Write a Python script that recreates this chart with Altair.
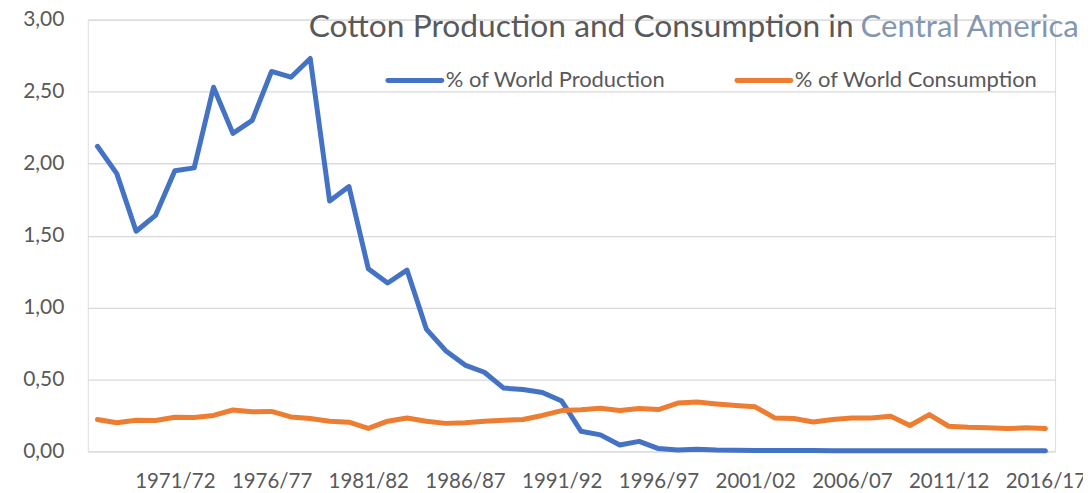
import altair as alt
import pandas as pd

seasons = [
    "1967/68", "1968/69", "1969/70", "1970/71", "1971/72", "1972/73", "1973/74", "1974/75",
    "1975/76", "1976/77", "1977/78", "1978/79", "1979/80", "1980/81", "1981/82", "1982/83",
    "1983/84", "1984/85", "1985/86", "1986/87", "1987/88", "1988/89", "1989/90", "1990/91",
    "1991/92", "1992/93", "1993/94", "1994/95", "1995/96", "1996/97", "1997/98", "1998/99",
    "1999/00", "2000/01", "2001/02", "2002/03", "2003/04", "2004/05", "2005/06", "2006/07",
    "2007/08", "2008/09", "2009/10", "2010/11", "2011/12", "2012/13", "2013/14", "2014/15",
    "2015/16", "2016/17",
]

production = [
    2.12, 1.93, 1.53, 1.64, 1.95, 1.97, 2.53, 2.21, 2.30, 2.64,
    2.60, 2.73, 1.74, 1.84, 1.27, 1.17, 1.26, 0.85, 0.70, 0.60,
    0.55, 0.44, 0.43, 0.41, 0.35, 0.14, 0.115, 0.045, 0.07, 0.02,
    0.01, 0.015, 0.01, 0.008, 0.007, 0.006, 0.006, 0.006, 0.005, 0.005,
    0.005, 0.005, 0.005, 0.005, 0.005, 0.005, 0.005, 0.005, 0.005, 0.004,
]

consumption = [
    0.222, 0.199, 0.217, 0.215, 0.238, 0.236, 0.250, 0.288, 0.275, 0.278,
    0.240, 0.229, 0.210, 0.203, 0.160, 0.210, 0.232, 0.210, 0.195, 0.199,
    0.210, 0.217, 0.222, 0.250, 0.284, 0.290, 0.300, 0.284, 0.298, 0.291,
    0.336, 0.343, 0.330, 0.319, 0.310, 0.233, 0.229, 0.205, 0.222, 0.233,
    0.233, 0.245, 0.180, 0.256, 0.175, 0.168, 0.164, 0.159, 0.164, 0.159,
]

tick_labels = ["1971/72", "1976/77", "1981/82", "1986/87", "1991/92",
               "1996/97", "2001/02", "2006/07", "2011/12", "2016/17"]
y_ticks = [0, 0.5, 1.0, 1.5, 2.0, 2.5, 3.0]

series_names = ["% of World Production", "% of World Consumption"]
series_colors = ["#4472C4", "#ED7D31"]

title_main = "Cotton Production and Consumption in"
title_region = "Central America"

FONT = "Lato"
GREY = "#595959"

df = pd.DataFrame({
    "season": seasons * 2,
    "value": production + consumption,
    "series": [series_names[0]] * len(seasons) + [series_names[1]] * len(seasons),
})

x_enc = alt.X(
    "season:N", sort=seasons,
    scale=alt.Scale(type="point", padding=0.5),
    axis=alt.Axis(
        values=tick_labels, title=None, ticks=False, tickSize=0, domain=False,
        grid=False, labelFont=FONT, labelFontSize=20.5, labelColor=GREY,
        labelAngle=0, labelBaseline="alphabetic", labelPadding=36,
    ),
)
y_enc = alt.Y(
    "value:Q",
    scale=alt.Scale(domain=[0, 3], nice=False),
    axis=alt.Axis(
        values=y_ticks, title=None, ticks=False, tickSize=0, domain=False,
        grid=True, gridColor="#d9d9d9", gridWidth=1.3,
        labelFont=FONT, labelFontSize=21, labelColor=GREY, labelPadding=24,
        labelExpr="replace(format(datum.value, '.2f'), '.', ',')",
    ),
)
color_enc = alt.Color("series:N", scale=alt.Scale(domain=series_names, range=series_colors), legend=None)

base = alt.Chart(df)
line_prod = base.transform_filter(alt.datum.series == series_names[0]).mark_line(
    strokeWidth=5, strokeCap="round", strokeJoin="round"
).encode(x=x_enc, y=y_enc, color=color_enc)
line_cons = base.transform_filter(alt.datum.series == series_names[1]).mark_line(
    strokeWidth=5, strokeCap="round", strokeJoin="round"
).encode(x=x_enc, y=y_enc, color=color_enc)

one = alt.Chart(pd.DataFrame({"a": [0]}))

title1 = one.mark_text(font=FONT, fontSize=31.8, fontWeight=400, color=GREY, align="right",
                       baseline="alphabetic").encode(
    x=alt.value(768), y=alt.value(17), text=alt.value(title_main))
title2 = one.mark_text(font=FONT, fontSize=31.2, fontWeight=400, color="#8497B0", align="left",
                       baseline="alphabetic").encode(
    x=alt.value(775), y=alt.value(17), text=alt.value(title_region))

leg_rule1 = one.mark_rule(color=series_colors[0], strokeWidth=5, strokeCap="round").encode(
    x=alt.value(301), x2=alt.value(355), y=alt.value(61))
leg_text1 = one.mark_text(font=FONT, fontSize=22, color=GREY, align="left", baseline="alphabetic").encode(
    x=alt.value(359), y=alt.value(68), text=alt.value(series_names[0]))
leg_rule2 = one.mark_rule(color=series_colors[1], strokeWidth=5, strokeCap="round").encode(
    x=alt.value(651), x2=alt.value(705), y=alt.value(61))
leg_text2 = one.mark_text(font=FONT, fontSize=22, color=GREY, align="left", baseline="alphabetic").encode(
    x=alt.value(709), y=alt.value(68), text=alt.value(series_names[1]))

chart = alt.layer(
    line_prod, line_cons, title1, title2, leg_rule1, leg_text1, leg_rule2, leg_text2
).properties(
    width=970, height=433,
    autosize=alt.AutoSizeParams(type="none"),
    padding={"left": 80, "top": 11, "right": 28, "bottom": 39},
).configure_view(stroke=None).configure(background="white")

chart.save("out.html", embed_options={"renderer": "svg", "actions": False})
